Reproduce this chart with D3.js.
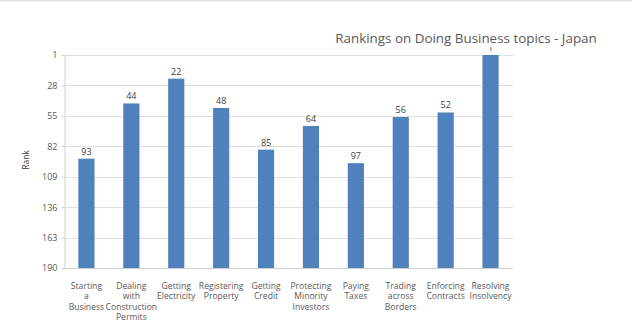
<!DOCTYPE html>
<html>
<head>
<meta charset="utf-8">
<script src="https://cdn.jsdelivr.net/npm/d3@7"></script>
<style>
  html, body { margin: 0; padding: 0; background: #fff; }
  svg { display: block; font-family: "Open Sans", sans-serif; }
</style>
</head>
<body>
<svg id="chart" width="632" height="331"></svg>
<script>
// Doing Business topic rankings for Japan (lower rank = better)
const categories = [
  ["Starting", "a", "Business"],
  ["Dealing", "with", "Construction", "Permits"],
  ["Getting", "Electricity"],
  ["Registering", "Property"],
  ["Getting", "Credit"],
  ["Protecting", "Minority", "Investors"],
  ["Paying", "Taxes"],
  ["Trading", "across", "Borders"],
  ["Enforcing", "Contracts"],
  ["Resolving", "Insolvency"]
];
const ranks = [93, 44, 22, 48, 85, 64, 97, 56, 52, 1];
const yTicks = [1, 28, 55, 82, 109, 136, 163, 190];
const titleText = "Rankings on Doing Business topics - Japan";
const yTitle = "Rank";

const svg = d3.select("#chart");
const W = 632, H = 331;
const plot = { left: 64, right: 513, top: 55, bottom: 268 };
const textColor = "#595959";

// faint frame line along the top edge
svg.append("rect").attr("x", 0).attr("y", 0).attr("width", W).attr("height", 1.5).attr("fill", "#e3e3e3");

const x = d3.scaleBand()
  .domain(d3.range(categories.length))
  .range([plot.left, plot.right])
  .paddingInner(0.64)
  .paddingOuter(0.32);

// reversed rank axis: rank 1 at the top
const y = d3.scaleLinear().domain([1, 190]).range([plot.top, plot.bottom]);

// horizontal gridlines
svg.append("g").selectAll("line").data(yTicks).join("line")
  .attr("x1", plot.left).attr("x2", plot.right)
  .attr("y1", d => Math.round(y(d)) + 0.5).attr("y2", d => Math.round(y(d)) + 0.5)
  .attr("stroke", "#e0e0e0").attr("stroke-width", 1);

// y axis
const yAxis = svg.append("g")
  .attr("transform", `translate(${plot.left + 0.5},0)`)
  .call(d3.axisLeft(y).tickValues(yTicks).tickSize(3).tickPadding(4));
yAxis.select(".domain").attr("stroke", "#d0d0d0");
yAxis.selectAll(".tick line").attr("stroke", "#d0d0d0");
yAxis.selectAll(".tick text").attr("fill", textColor)
  .style("font-family", "'Open Sans', sans-serif").style("font-size", "9px");

// bars hang from the baseline (rank 190) up to each rank
svg.append("g").selectAll("rect").data(ranks).join("rect")
  .attr("x", (d, i) => x(i))
  .attr("width", x.bandwidth())
  .attr("y", d => y(d))
  .attr("height", d => y(190) - y(d))
  .attr("fill", "#4f81bd");

// x baseline
svg.append("line")
  .attr("x1", plot.left).attr("x2", plot.right)
  .attr("y1", Math.round(y(190)) + 0.5).attr("y2", Math.round(y(190)) + 0.5)
  .attr("stroke", "#d0d0d0");

// value labels
svg.append("g").selectAll("text").data(ranks).join("text")
  .attr("x", (d, i) => x(i) + x.bandwidth() / 2)
  .attr("y", d => y(d) - 4)
  .attr("text-anchor", "middle")
  .attr("fill", "#404040")
  .style("font-size", "9px")
  .text(d => d);

// category labels, one tspan per line
const catG = svg.append("g").selectAll("text").data(categories).join("text")
  .attr("text-anchor", "middle")
  .attr("fill", textColor)
  .style("font-size", "8.6px");
catG.each(function(lines, i) {
  const t = d3.select(this);
  lines.forEach((ln, k) => {
    t.append("tspan")
      .attr("x", x(i) + x.bandwidth() / 2)
      .attr("y", 289 + k * 10.4)
      .text(ln);
  });
});

// y axis title
svg.append("text")
  .attr("transform", "translate(29,160) rotate(-90)")
  .attr("text-anchor", "middle")
  .attr("fill", "#404040")
  .style("font-size", "8.5px")
  .text(yTitle);

// chart title on a white backing
const title = svg.append("g");
title.append("rect").attr("x", 330).attr("y", 26).attr("width", 272).attr("height", 21).attr("fill", "#fff");
title.append("text")
  .attr("x", 466).attr("y", 42.5)
  .attr("text-anchor", "middle")
  .attr("fill", textColor)
  .style("font-size", "13.4px")
  .text(titleText);
</script>
</body>
</html>
